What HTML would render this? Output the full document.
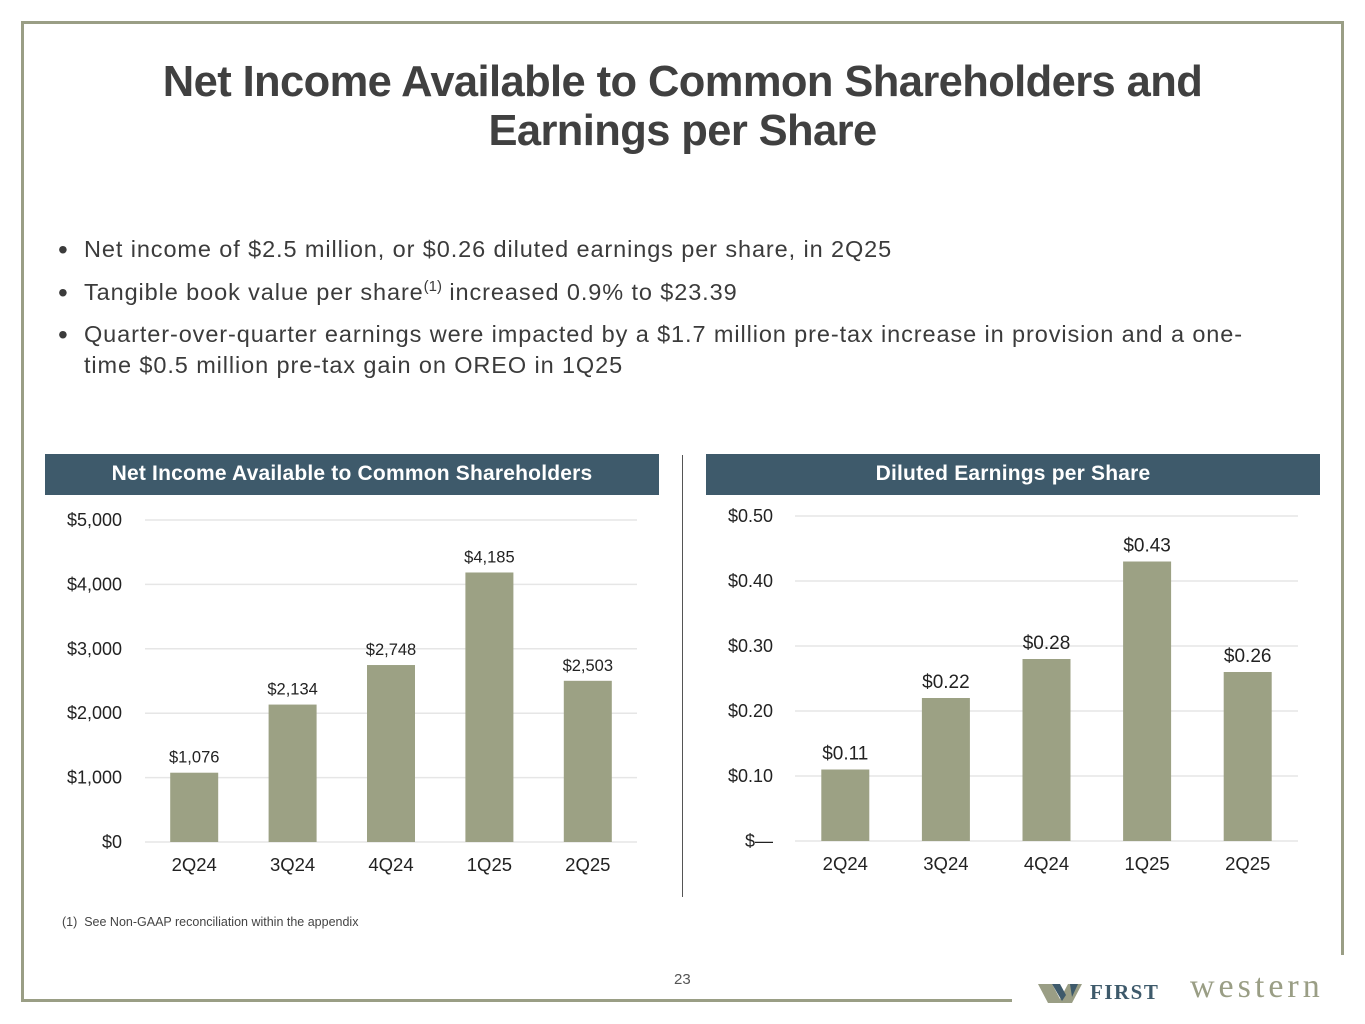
<!DOCTYPE html>
<html><head><meta charset="utf-8">
<style>
*{margin:0;padding:0;box-sizing:border-box}
body{width:1365px;height:1024px;background:#fff;position:relative;overflow:hidden;font-family:"Liberation Sans",sans-serif}
.abs{position:absolute}
h1{position:absolute;left:0;width:1365px;top:58px;text-align:center;font-size:43.5px;line-height:49px;font-weight:bold;color:#404040;font-family:"Liberation Sans",sans-serif;letter-spacing:-0.6px}
.bul{position:absolute;left:58px;font-size:23.5px;color:#3b3b3b;line-height:31px;letter-spacing:0.9px;white-space:nowrap}
.bul span.dot{position:absolute;left:0;font-size:28px;line-height:31px}
.bul div{margin-left:26px}
sup{font-size:15px;line-height:0;vertical-align:9px;letter-spacing:0}
.hdr{position:absolute;height:41px;top:454px;background:#3e5a6b;color:#fff;font-weight:bold;font-size:21px;text-align:center;line-height:40px;letter-spacing:0.2px}
</style></head><body>
<div class="abs" style="left:21px;top:21px;width:1323px;height:3px;background:#9a9e85"></div>
<div class="abs" style="left:21px;top:21px;width:3px;height:981px;background:#9a9e85"></div>
<div class="abs" style="left:1341px;top:21px;width:3px;height:934px;background:#9a9e85"></div>
<div class="abs" style="left:21px;top:999px;width:991px;height:3px;background:#9a9e85"></div>

<h1>Net Income Available to Common Shareholders and<br>Earnings per Share</h1>

<div class="bul" style="top:234px"><span class="dot">•</span><div>Net income of $2.5 million, or $0.26 diluted earnings per share, in 2Q25</div></div>
<div class="bul" style="top:277px"><span class="dot">•</span><div>Tangible book value per share<sup>(1)</sup> increased 0.9% to $23.39</div></div>
<div class="bul" style="top:319px"><span class="dot">•</span><div>Quarter-over-quarter earnings were impacted by a $1.7 million pre-tax increase in provision and a one-<br>time $0.5 million pre-tax gain on OREO in 1Q25</div></div>

<div class="hdr" style="left:45px;width:614px">Net Income Available to Common Shareholders</div>
<div class="hdr" style="left:706px;width:614px">Diluted Earnings per Share</div>
<div class="abs" style="left:682px;top:455px;width:1px;height:442px;background:#555"></div>

<svg class="abs" style="left:0;top:0" width="1365" height="1024" id="charts"></svg>

<div class="abs" style="left:62px;top:915px;font-size:12.5px;color:#444">(1)&nbsp; See Non-GAAP reconciliation within the appendix</div>
<div class="abs" style="left:674px;top:971px;font-size:15px;color:#555">23</div>
<div class="abs" style="left:1038px;top:976px;width:320px;height:30px">
<svg width="46" height="24" style="position:absolute;left:0;top:5px"><polygon points="0,3 14,3 22,18 30,3 44,3 34,22 10,22" fill="#9a9e85"/><polygon points="14,3 22,3 28,14 24,20" fill="#3e5a6b"/><polygon points="32,3 40,3 34,16" fill="#3e5a6b"/></svg>
<span style="position:absolute;left:52px;top:4px;font-family:'Liberation Serif',serif;font-weight:bold;font-size:21px;letter-spacing:1.5px;color:#3e5a6b">FIRST</span>
<span style="position:absolute;left:152px;top:-8px;font-family:'Liberation Serif',serif;font-size:34px;letter-spacing:4px;color:#9a9e85;white-space:nowrap">western</span>
</div>

<script>
const niCats=["2Q24","3Q24","4Q24","1Q25","2Q25"];
const niVals=[1076,2134,2748,4185,2503];
const niLabels=["$1,076","$2,134","$2,748","$4,185","$2,503"];
const niTicks=[0,1000,2000,3000,4000,5000];
const niTickLabels=["$0","$1,000","$2,000","$3,000","$4,000","$5,000"];
const epsCats=["2Q24","3Q24","4Q24","1Q25","2Q25"];
const epsVals=[0.11,0.22,0.28,0.43,0.26];
const epsLabels=["$0.11","$0.22","$0.28","$0.43","$0.26"];
const epsTicks=[0,0.1,0.2,0.3,0.4,0.5];
const epsTickLabels=["$—","$0.10","$0.20","$0.30","$0.40","$0.50"];
const NS="http://www.w3.org/2000/svg";
const svg=document.getElementById('charts');
function mk(t,a,txt){const e=document.createElementNS(NS,t);for(const k in a)e.setAttribute(k,a[k]);if(txt!==undefined)e.textContent=txt;svg.appendChild(e);return e;}
function chart(o,cats,vals,labels,ticks,tickLabels){
  const y=v=>o.y0-(v-ticks[0])/(ticks[ticks.length-1]-ticks[0])*(o.y0-o.y1);
  const bw=(o.x1-o.x0)/cats.length;
  ticks.forEach((t,i)=>{
    const g=mk('line',{x1:o.x0,x2:o.x1,y1:y(t),y2:y(t),stroke:'#e6e6e6','stroke-width':1.5});
    
    
    const l=mk('text',{x:o.lx,y:y(t)+6,'text-anchor':'end','font-size':18,fill:'#222','font-family':'Liberation Sans'},tickLabels[i]);
    
    
  });
  cats.forEach((c,i)=>{
    const cx=o.x0+bw*(i+0.5);
    const r=mk('rect',{x:cx-24,y:y(vals[i]),width:48,height:y(0)-y(vals[i]),fill:'#9ca184'});
    
    
    const v=mk('text',{x:cx,y:y(vals[i])-10,'text-anchor':'middle','font-size':o.vs,fill:'#222','font-family':'Liberation Sans'},labels[i]);
    
    
    const xl=mk('text',{x:cx,y:o.y0+29,'text-anchor':'middle','font-size':18.5,fill:'#222','font-family':'Liberation Sans'},c);
    
    
  });
}
chart({x0:145,x1:637,y0:842,y1:520,lx:122,vs:16.5},niCats,niVals,niLabels,niTicks,niTickLabels);
chart({x0:795,x1:1298,y0:841,y1:516,lx:773,vs:19},epsCats,epsVals,epsLabels,epsTicks,epsTickLabels);
</script>
</body></html>
